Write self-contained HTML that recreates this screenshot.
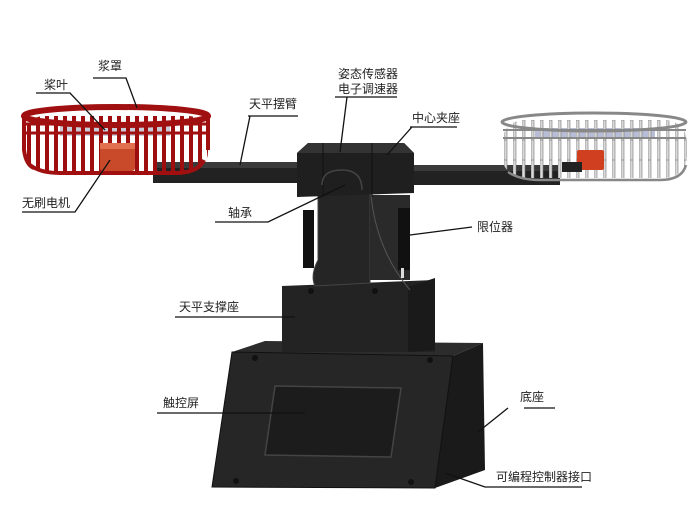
<!DOCTYPE html>
<html><head><meta charset="utf-8"><style>
html,body{margin:0;padding:0;background:#fff;width:699px;height:515px;overflow:hidden}
svg{display:block}
text{font-family:"Liberation Sans","Noto Sans CJK SC",sans-serif;font-size:12px;fill:#222}
</style></head><body>
<svg width="699" height="515" viewBox="0 0 699 515">
<defs>
<pattern id="red" width="9" height="20" patternUnits="userSpaceOnUse"><rect x="0" width="4" height="20" fill="#9e0e0e"/></pattern>
<pattern id="wht" width="9" height="20" patternUnits="userSpaceOnUse"><rect x="0" width="3" height="20" fill="#d8d8d8" stroke="#777" stroke-width="0.6"/></pattern>
</defs>

<!-- arms -->
<rect x="153" y="162" width="146" height="21" fill="#222"/>
<rect x="153" y="162" width="146" height="6" fill="#3a3a3a"/>
<rect x="412" y="165" width="148" height="20" fill="#222"/>
<rect x="412" y="165" width="148" height="6" fill="#3a3a3a"/>

<!-- left red cage -->
<g>
<rect x="60" y="124" width="110" height="12" fill="#c8ccd8"/>
<rect x="24" y="116" width="184" height="56" rx="20" fill="url(#red)"/>
<ellipse cx="116" cy="116" rx="92" ry="9" fill="none" stroke="#a01010" stroke-width="6"/>
<path d="M26 124 H206 M26 133 H206" stroke="#a01010" stroke-width="3"/>
<path d="M30 165 Q40 173 60 173 H175 Q198 173 204 160" stroke="#a01010" stroke-width="4" fill="none"/>
<path d="M24 116 V150 Q26 165 34 168 M208 116 V150" stroke="#a01010" stroke-width="4" fill="none"/>
<rect x="100" y="143" width="35" height="28" rx="3" fill="#c84a2a"/>
<rect x="100" y="143" width="35" height="6" fill="#e07050"/>
</g>

<!-- right white cage -->
<g>
<rect x="535" y="128" width="120" height="10" fill="#b8bed8"/>
<rect x="502" y="120" width="185" height="58" rx="22" fill="url(#wht)"/>
<ellipse cx="594" cy="122" rx="92" ry="9" fill="none" stroke="#888" stroke-width="3"/>
<path d="M503 130 H686 M503 138 H686" stroke="#888" stroke-width="2"/>
<path d="M508 172 Q520 180 540 180 H660 Q682 180 686 165" stroke="#888" stroke-width="2.5" fill="none"/>
<rect x="577" y="150" width="27" height="20" rx="2" fill="#d04020"/>
<rect x="562" y="162" width="20" height="10" fill="#222"/>
</g>

<!-- base -->
<polygon points="265,341 483,343 453,356 232,352" fill="#2c2c2c"/>
<polygon points="453,356 483,343 485,470 435,488" fill="#1a1a1a"/>
<polygon points="232,352 453,356 435,488 212,487" fill="#262626" stroke="#111" stroke-width="1"/>
<polygon points="275,386 401,388 391,457 265,455" fill="#1c1c1c" stroke="#444" stroke-width="1.5"/>
<circle cx="255" cy="358" r="3" fill="#111"/><circle cx="430" cy="360" r="3" fill="#111"/>
<circle cx="236" cy="481" r="3" fill="#111"/><circle cx="411" cy="482" r="3" fill="#111"/>

<!-- support column -->
<path d="M282 286 L435 280 L435 352 L282 352 Z" fill="#232323"/>
<polygon points="408,287 435,278 435,350 408,352" fill="#1a1a1a"/>
<circle cx="311" cy="291" r="3" fill="#111"/><circle cx="375" cy="291" r="3" fill="#111"/>
<path d="M318 175 Q318 160 340 160 Q370 160 370 180 L370 283 L315 286 Q310 275 318 260 Z" fill="#252525" stroke="#444" stroke-width="1"/>
<rect x="370" y="195" width="40" height="85" fill="#2a2a2a"/>
<path d="M370 180 Q372 245 410 290" stroke="#555" stroke-width="1" fill="none"/>
<rect x="303" y="210" width="11" height="58" fill="#111"/>
<rect x="398" y="208" width="12" height="62" fill="#111"/>
<rect x="401" y="268" width="3" height="10" fill="#ddd"/>

<!-- head -->
<polygon points="308,143 404,143 414,153 414,193 297,197 297,153" fill="#1f1f1f"/>
<polygon points="308,143 404,143 414,153 297,153" fill="#333"/>
<path d="M323 143 V197 M372 143 V197" stroke="#111" stroke-width="1"/>
<path d="M322 185 Q322 170 342 170 Q362 170 362 190" stroke="#444" stroke-width="1.5" fill="none"/>

<!-- leaders -->
<g stroke="#111" stroke-width="1.3" fill="none">
<path d="M93 78 H126 L137 108"/>
<path d="M36 93 H70 L105 130"/>
<path d="M22 212 H75 L110 160"/>
<path d="M248 116 H298 M250 116 L240 165"/>
<path d="M335 97 H397 M347 97 L340 152"/>
<path d="M410 127 H457 M412 127 L387 155"/>
<path d="M215 222 H268 L345 185"/>
<path d="M410 235 L472 227"/>
<path d="M175 317 H295"/>
<path d="M157 413 H305"/>
<path d="M524 408 H555 M508 408 L478 432"/>
<path d="M445 473 L485 487 H582"/>
</g>

<!-- labels -->
<text x="98" y="70">浆罩</text>
<text x="44" y="89">桨叶</text>
<text x="22" y="207">无刷电机</text>
<text x="249" y="108">天平摆臂</text>
<text x="338" y="78">姿态传感器</text>
<text x="338" y="93">电子调速器</text>
<text x="412" y="122">中心夹座</text>
<text x="228" y="217">轴承</text>
<text x="477" y="231">限位器</text>
<text x="179" y="311">天平支撑座</text>
<text x="163" y="407">触控屏</text>
<text x="520" y="401">底座</text>
<text x="496" y="481">可编程控制器接口</text>
</svg>
</body></html>
